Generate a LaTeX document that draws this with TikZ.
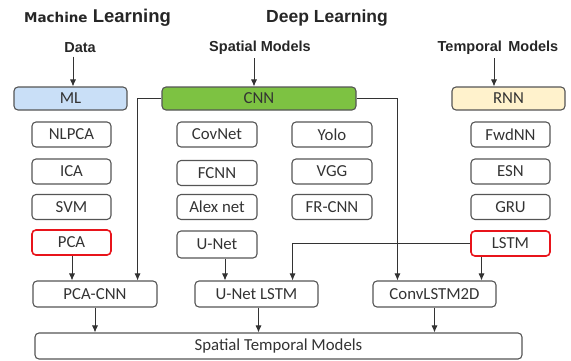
\documentclass[tikz,border=0pt]{standalone}
\usepackage{fontspec}
\setmainfont{Carlito}
\newfontfamily\hdfont{Liberation Sans}
\newfontfamily\mafont{DejaVu Sans}
\usetikzlibrary{arrows.meta}
\definecolor{mlblue}{HTML}{C9DFF7}
\definecolor{cnngreen}{HTML}{7DC242}
\definecolor{rnnyellow}{HTML}{FFF2CC}
\definecolor{boxline}{HTML}{555555}
\definecolor{hilite}{HTML}{E8141B}
\definecolor{txtgray}{HTML}{333333}

\begin{document}
\begin{tikzpicture}[x=1pt,y=-1pt,
    model/.style={draw=boxline,line width=1.1pt,rounded corners=4pt,minimum width=79pt,minimum height=25pt,inner sep=0pt,text=txtgray,font=\fontsize{16.8}{16.8}\selectfont},
    family/.style={model,minimum width=113pt,minimum height=23pt},
    picked/.style={draw=hilite,line width=1.6pt},
    head/.style={text=black!85,font=\hdfont\bfseries\fontsize{14.5}{14.5}\selectfont},
    arr/.style={-{Latex[length=7pt,width=6pt]},line width=0.8pt,draw=black!80},
    link/.style={line width=0.8pt,draw=black!80}]
    \useasboundingbox (0,0) rectangle (571,360);
    % titles
    \node[text=black!85,font=\hdfont\bfseries\fontsize{18.5}{18.5}\selectfont] (mltitle) at (97.5,18) {{\mafont\fontsize{13.5}{13.5}\selectfont Machine} Learning};
    \node[text=black!85,font=\hdfont\bfseries\fontsize{17.5}{17.5}\selectfont] (dltitle) at (327,18) {Deep Learning};
    \node[head] (data) at (80,48) {Data};
    \node[head] (spatial) at (260,48) {Spatial Models};
    \node[head] (temporal) at (498,48) {Temporal\ \,Models};
    % model families
    \node[family,fill=mlblue] (ml) at (70.5,98.5) {ML};
    \node[family,fill=cnngreen,minimum width=194pt] (cnn) at (259,98.5) {CNN};
    \node[family,fill=rnnyellow] (rnn) at (508.5,98.5) {RNN};
    % machine learning
    \node[model] (nlpca) at (71.5,134.5) {NLPCA};
    \node[model] (ica) at (71.5,171.5) {ICA};
    \node[model] (svm) at (71.5,207) {SVM};
    \node[model,picked] (pca) at (71.5,242.5) {PCA};
    % spatial
    \node[model,minimum width=80pt] (covnet) at (217,134.5) {CovNet};
    \node[model,minimum width=80pt] (fcnn) at (217,173) {FCNN};
    \node[model,minimum width=80pt] (alexnet) at (217,207) {Alex net};
    \node[model,minimum width=80pt,minimum height=27pt] (unet) at (217,244.5) {U-Net};
    \node[model,minimum width=80pt] (yolo) at (332,134.5) {Yolo};
    \node[model,minimum width=80pt] (vgg) at (332,171.5) {VGG};
    \node[model,minimum width=80pt] (frcnn) at (332,207) {FR-CNN};
    % temporal
    \node[model] (fwdnn) at (510.5,134.5) {FwdNN};
    \node[model] (esn) at (510.5,171.5) {ESN};
    \node[model] (gru) at (510.5,207) {GRU};
    \node[model,picked] (lstm) at (510.5,243.5) {LSTM};
    % hybrids
    \node[model,minimum width=124pt,minimum height=26pt] (pcacnn) at (95,294) {PCA-CNN};
    \node[model,minimum width=123pt,minimum height=26pt] (unetlstm) at (256.5,294) {U-Net LSTM};
    \node[model,minimum width=123pt,minimum height=26pt] (convlstm) at (434.5,294) {ConvLSTM2D};
    \node[model,minimum width=487pt,minimum height=26pt] (stm) at (278.5,346) {Spatial Temporal Models};
    % connectors
    \draw[arr] (data.south -| 73,0) -- (ml.north -| 73,0);
    \draw[arr] (spatial.south -| 254,0) -- (cnn.north -| 254,0);
    \draw[arr] (temporal.south -| 494,0) -- (rnn.north -| 494,0);
    \draw[arr] (cnn.west) -| ([xshift=-20pt]pcacnn.north east);
    \draw[arr] (cnn.east) -| ([xshift=25pt]convlstm.north west);
    \draw[arr] (lstm.west) -| ([xshift=-26pt]unetlstm.north east);
    \draw[arr] (pca.south -| 72,0) -- (pcacnn.north -| 72,0);
    \draw[arr] ([xshift=8pt]unet.south) -- ([xshift=8pt]unet.south |- unetlstm.north);
    \draw[arr] ([xshift=-29pt]lstm.south) -- ([xshift=-29pt]lstm.south |- convlstm.north);
    \draw[arr] (pcacnn) -- (pcacnn |- stm.north);
    \draw[arr] ([xshift=2pt]unetlstm.south) -- ([xshift=2pt]unetlstm.south |- stm.north);
    \draw[arr] (convlstm) -- (convlstm |- stm.north);
\end{tikzpicture}
\end{document}
